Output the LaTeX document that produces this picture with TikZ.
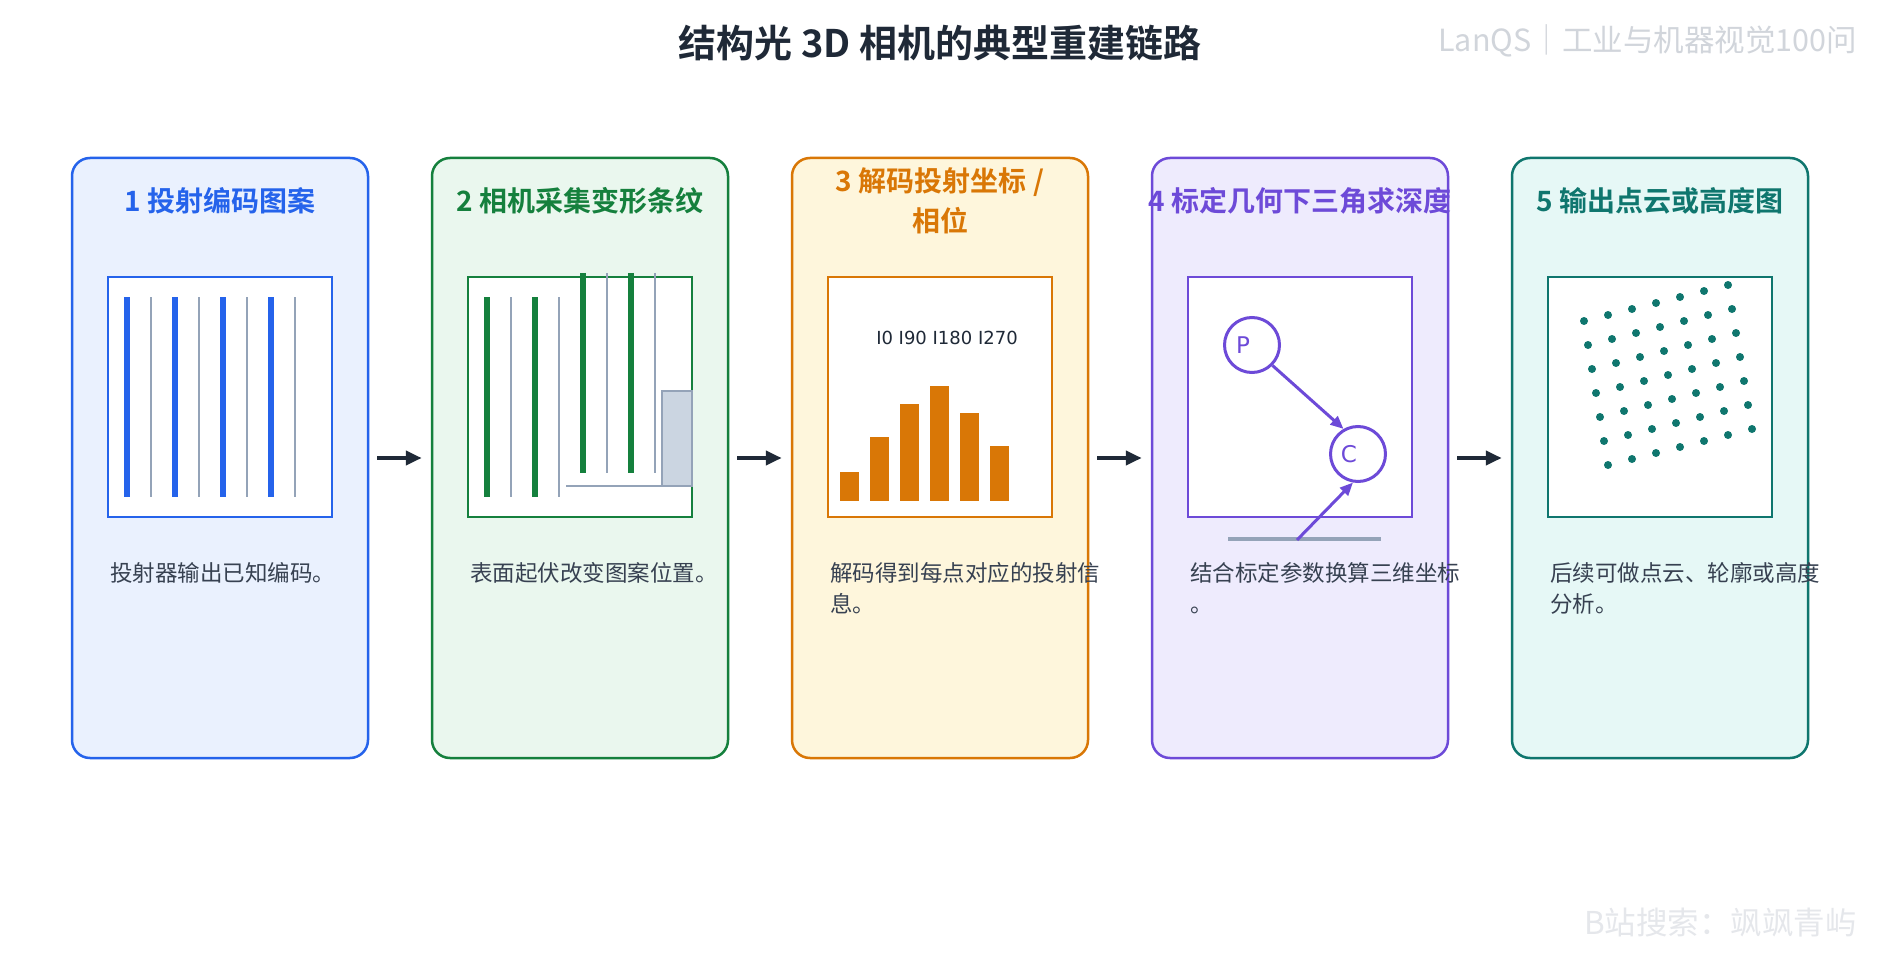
\documentclass[tikz,border=0pt]{standalone}
\usepackage{fontspec}
\setmainfont{Noto Sans CJK SC}[BoldFont={Noto Sans CJK SC Bold}]
\newfontfamily\latinfont{DejaVu Sans}
\usepackage{tikz}
\usetikzlibrary{arrows.meta, positioning, calc}
\usepackage{xcolor}
\definecolor{ink}{HTML}{1F2937}
\definecolor{txt}{HTML}{374151}
\definecolor{fringe}{HTML}{94A3B8}
\definecolor{slab}{HTML}{CBD5E1}
\definecolor{wmA}{HTML}{D1D5DB}
\definecolor{wmB}{HTML}{E5E7EB}
\definecolor{cBlue}{HTML}{2563EB}   \definecolor{fBlue}{HTML}{EAF1FE}
\definecolor{cGreen}{HTML}{15803D}  \definecolor{fGreen}{HTML}{EAF7EE}
\definecolor{cOrange}{HTML}{D97706} \definecolor{fOrange}{HTML}{FEF6DC}
\definecolor{cPurple}{HTML}{6D4AD8} \definecolor{fPurple}{HTML}{EEEBFD}
\definecolor{cTeal}{HTML}{0F766E}   \definecolor{fTeal}{HTML}{E6F8F6}
\tikzset{
	card/.style={rectangle, rounded corners=18pt, line width=2.5pt, minimum width=296pt, minimum height=600pt, inner sep=0pt},
	panel/.style={rectangle, fill=white, line width=2pt, minimum width=224pt, minimum height=240pt, inner sep=0pt},
	cardtitle/.style={font=\fontsize{28}{40}\selectfont\bfseries, align=center, inner sep=0pt},
	desc/.style={font=\fontsize{22.5}{31}\selectfont, text=txt, align=left, anchor=base west, inner sep=0pt},
	wide fringe/.style={line width=6pt},
	thin fringe/.style={draw=fringe, line width=1.8pt},
	station/.style={circle, draw=cPurple, line width=3pt, minimum size=55pt, inner sep=0pt},
	tag/.style={text=cPurple, font=\latinfont\fontsize{23}{24}\selectfont, xshift=-9pt, inner sep=0pt},
	ray/.style={draw=cPurple, line width=3pt, -{Triangle[length=13pt,width=11pt]}},
	flow/.style={draw=ink, line width=4pt, -{Triangle[length=16pt,width=14pt]}, shorten <=8pt, shorten >=9pt}
}

\begin{document}
\begin{tikzpicture}[x=1pt, y=-1pt]
	\useasboundingbox (0,0) rectangle (1880,960);
	\fill[white] (0,0) rectangle (1880,960);
	
	% Header
	\node[font=\fontsize{38}{40}\selectfont\bfseries, text=ink, inner sep=0pt] (head) at (940,43) {结构光 3D 相机的典型重建链路};
	\node[font=\fontsize{30.5}{32}\selectfont, text=wmA, anchor=east, inner sep=0pt] (brand) at (1857,41) {LanQS｜工业与机器视觉100问};
	
	% Cards and panels
	\foreach \n/\c in {1/Blue,2/Green,3/Orange,4/Purple,5/Teal} {
		\node[card, draw=c\c, fill=f\c] (card\n) at ({220+360*(\n-1)},458) {};
		\node[panel, draw=c\c] (pan\n) at ({220+360*(\n-1)},397) {};
	}
	
	% Titles
	\node[cardtitle, text=cBlue] (title1) at (220,201) {1 投射编码图案};
	\node[cardtitle, text=cGreen] (title2) at (580,201) {2 相机采集变形条纹};
	\node[cardtitle, text=cOrange] (title3) at (940,201) {3 解码投射坐标 /\\相位};
	\node[cardtitle, text=cPurple] (title4) at (1300,201) {4 标定几何下三角求深度};
	\node[cardtitle, text=cTeal] (title5) at (1660,201) {5 输出点云或高度图};
	
	% Flow arrows
	\foreach \n in {1,...,4} {
		\pgfmathtruncatemacro\m{\n+1}
		\draw[flow] (card\n) -- (card\m);
	}
	
	% 1: coded fringes
	\foreach \k in {0,...,3} {
		\draw[wide fringe, draw=cBlue] ({127+48*\k},297) -- ({127+48*\k},497);
		\draw[thin fringe] ({151+48*\k},297) -- ({151+48*\k},497);
	}
	
	% 2: deformed fringes
	\foreach \k in {0,1} {
		\draw[wide fringe, draw=cGreen] ({487+48*\k},297) -- ({487+48*\k},497);
		\draw[thin fringe] ({511+48*\k},297) -- ({511+48*\k},497);
		\draw[wide fringe, draw=cGreen] ({583+48*\k},273) -- ({583+48*\k},473);
		\draw[thin fringe] ({607+48*\k},273) -- ({607+48*\k},473);
	}
	\draw[draw=fringe, line width=1.5pt] (566,486) -- (662,486);
	\draw[draw=fringe, fill=slab, line width=1.5pt] (662,391) rectangle (692,486);
	
	% 3: phase samples
	\node[font=\latinfont\fontsize{18}{20}\selectfont, text=ink, inner sep=0pt] (phase) at (947,338) {I0 I90 I180 I270};
	\foreach \x/\h in {840/29, 870/64, 900/97, 930/115, 960/88, 990/55}
		\fill[cOrange] (\x,501) rectangle ++(19,-\h);
	
	% 4: triangulation
	\node[station, label={[tag]center:P}] (P) at (1252,345) {};
	\node[station, label={[tag]center:C}] (C) at (1358,454) {};
	\coordinate (gnd1) at (1228,539);
	\coordinate (gnd2) at (1381,539);
	\coordinate (hit) at (1297,540);
	\draw[draw=fringe, line width=4pt] (gnd1) -- (gnd2);
	\draw[ray] (P.-45) -- (C.120);
	\draw[ray] (hit) -- (C.-100);
	
	% 5: point cloud
	\foreach \i in {0,...,6}
		\foreach \j in {0,...,6}
			\fill[cTeal] ({1584+24*\j+4*\i},{321-6*\j+24*\i}) circle (4pt);
	
	% Descriptions
	\node[desc] (desc1) at (110,581) {投射器输出已知编码。};
	\node[desc] (desc2) at (470,581) {表面起伏改变图案位置。};
	\node[desc] (desc3) at (830,612) {解码得到每点对应的投射信\\息。};
	\node[desc] (desc4) at (1190,612) {结合标定参数换算三维坐标\\。};
	\node[desc] (desc5) at (1550,612) {后续可做点云、轮廓或高度\\分析。};
	
	\node[font=\fontsize{31.5}{33}\selectfont, text=wmB, anchor=east, inner sep=0pt] (credit) at (1857,923) {B站搜索：飒飒青屿};
\end{tikzpicture}
\end{document}
